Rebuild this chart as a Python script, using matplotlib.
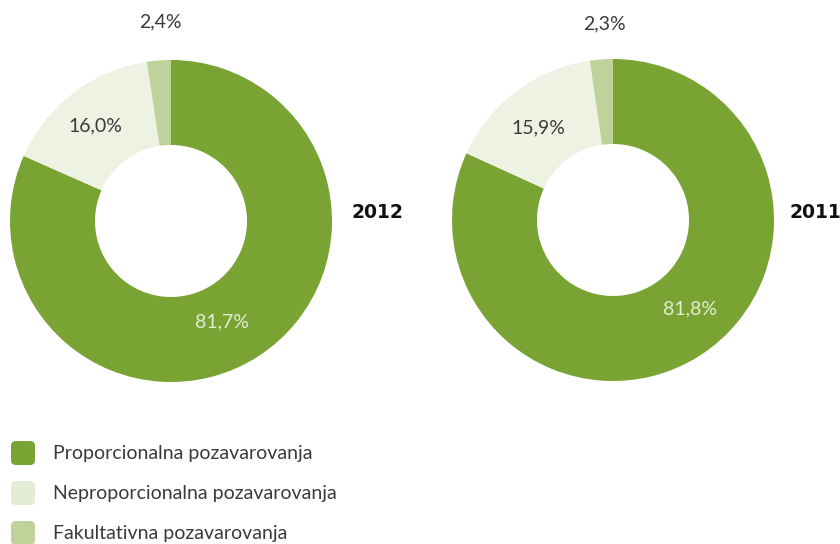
import matplotlib
matplotlib.use("Agg")
import matplotlib.pyplot as plt
from matplotlib.patches import FancyBboxPatch

categories = ["Proporcionalna pozavarovanja", "Neproporcionalna pozavarovanja", "Fakultativna pozavarovanja"]
years = ["2012", "2011"]
values_2012 = [81.7, 16.0, 2.4]
values_2011 = [81.8, 15.9, 2.3]
labels_2012 = ["81,7%", "16,0%", "2,4%"]
labels_2011 = ["81,8%", "15,9%", "2,3%"]

colors = ["#79a332", "#eef2e3", "#bfd29a"]
legend_colors = ["#79a332", "#e4ecd6", "#bfd29a"]

fig = plt.figure(figsize=(8.4, 5.44), dpi=100)
ax = fig.add_axes([0, 0, 1, 1])

font = "Lato"

def donut(vals, center, labels, label_pos, year, year_pos):
    # y axis is inverted: start at visual top (-90) and go visually clockwise
    ax.pie(vals, colors=colors, startangle=-90, counterclock=True,
           center=center, radius=161,
           wedgeprops=dict(width=161 - 76, edgecolor="none"))
    for lab, pos, col in zip(labels, label_pos, ["#e4ecd6", "#3a3a3a", "#3a3a3a"]):
        ax.text(pos[0], pos[1], lab, ha="center", va="center", fontsize=14,
                color=col, family=font)
    ax.text(year_pos[0], year_pos[1], year, ha="center", va="center",
            fontsize=13.5, fontweight="bold", color="#111111", family="DejaVu Sans")

donut(values_2012, (171, 221), labels_2012, [(222, 322), (95, 126), (160, 22)], years[0], (377, 212))
donut(values_2011, (613, 220), labels_2011, [(690, 309), (538, 128), (604, 24)], years[1], (815, 212))

ax.set_xlim(0, 840)
ax.set_ylim(544, 0)
ax.set_aspect("equal")
ax.axis("off")

for i, (cat, col) in enumerate(zip(categories, legend_colors)):
    y = 453 + 40 * i
    box = FancyBboxPatch((11, y - 12), 24, 24, boxstyle="round,pad=0,rounding_size=5",
                         facecolor=col, edgecolor="none")
    ax.add_patch(box)
    ax.text(53, y, cat, ha="left", va="center", fontsize=14, color="#3a3a3a", family=font)

fig.savefig("out.png", dpi=100)
